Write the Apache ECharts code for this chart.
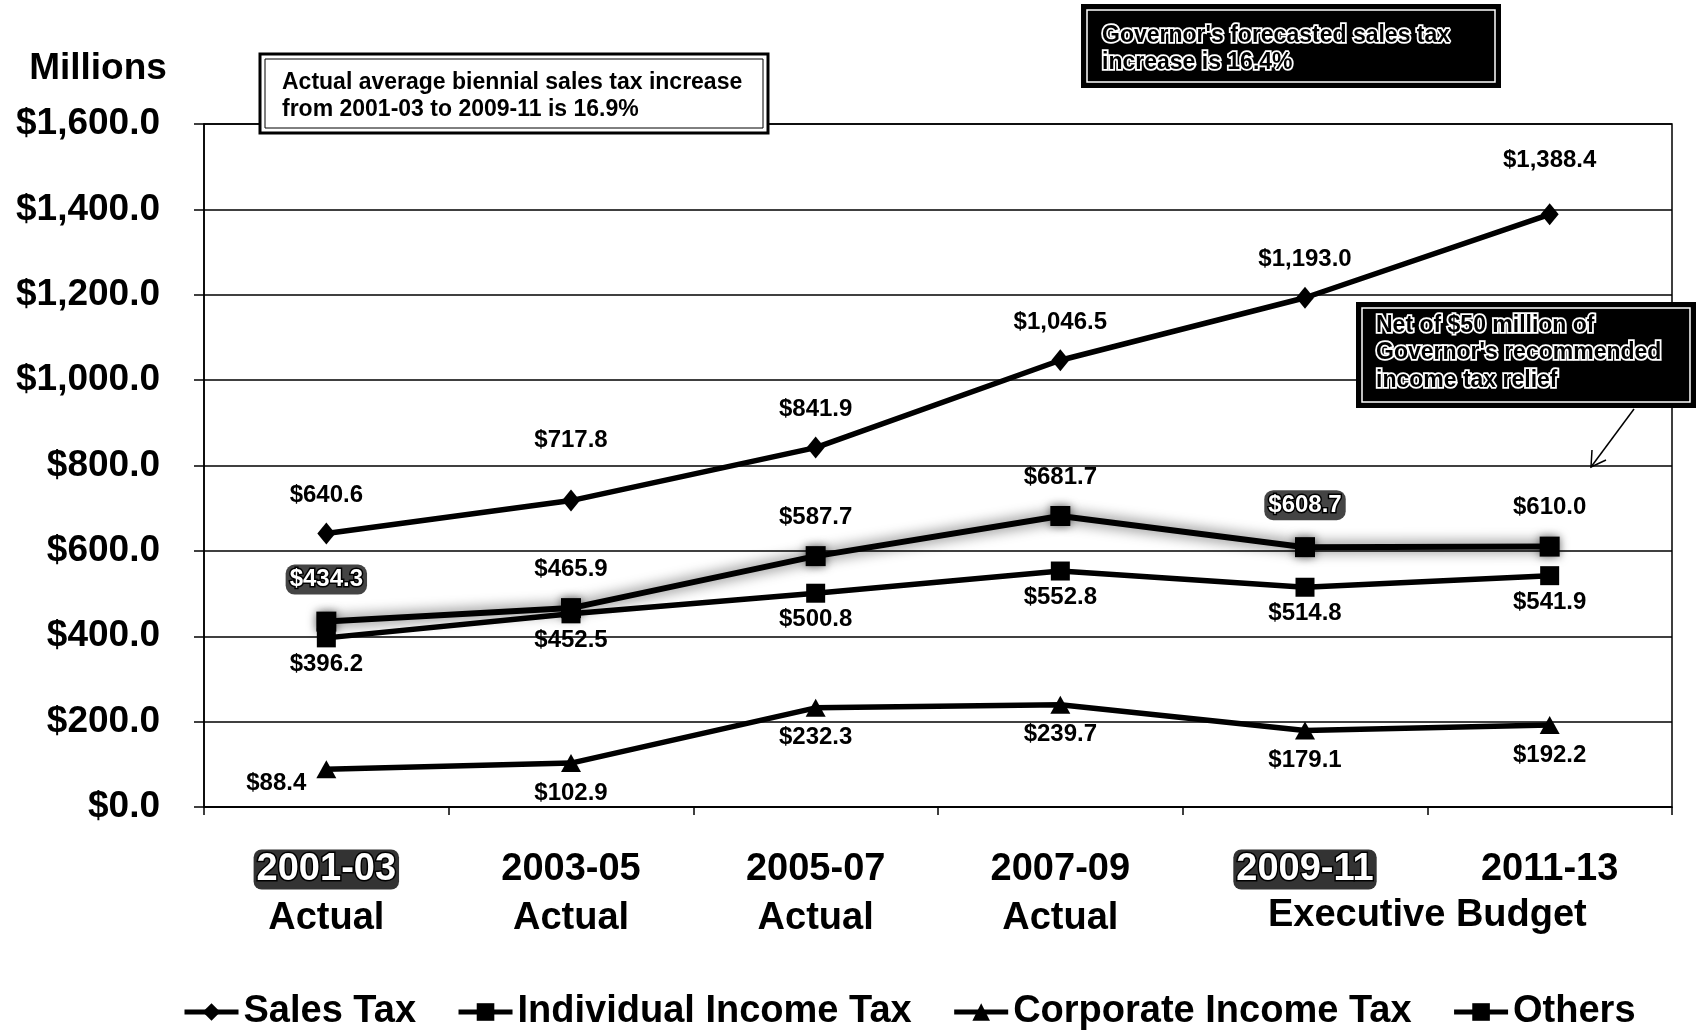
<!DOCTYPE html>
<html>
<head>
<meta charset="utf-8">
<script src="https://cdn.jsdelivr.net/npm/echarts@6/dist/echarts.min.js"></script>
<style>html,body{margin:0;padding:0;background:#fff}#c{width:1697px;height:1031px}</style>
</head>
<body>
<div id="c"></div>
<script>
const categories = ['2001-03', '2003-05', '2005-07', '2007-09', '2009-11', '2011-13'];
const subLabels = ['Actual', 'Actual', 'Actual', 'Actual', '', ''];
const groupLabel = 'Executive Budget';
const salesTax = [640.6, 717.8, 841.9, 1046.5, 1193.0, 1388.4];
const individualIncomeTax = [434.3, 465.9, 587.7, 681.7, 608.7, 610.0];
const corporateIncomeTax = [88.4, 102.9, 232.3, 239.7, 179.1, 192.2];
const others = [396.2, 452.5, 500.8, 552.8, 514.8, 541.9];
const seriesNames = ['Sales Tax', 'Individual Income Tax', 'Corporate Income Tax', 'Others'];
const highlightedCats = [0, 4];
const highlightedIndLabels = [0, 4];
const yMin = 0, yMax = 1600, yStep = 200;

const FONT = '"Liberation Sans", Arial, sans-serif';
const fmt = v => '$' + v.toLocaleString('en-US', {minimumFractionDigits: 1, maximumFractionDigits: 1});

// label layout tweaks (separate from data)
const salesLift = [0, -22, 0, 0, 0, -16];

const chart = echarts.init(document.getElementById('c'));

const baseLabel = {
  show: true, fontFamily: FONT, fontWeight: 'bold', fontSize: 24, color: '#000',
  formatter: p => fmt(p.value)
};

const salesData = salesTax.map((v, i) => ({value: v, label: {offset: [0, salesLift[i]]}}));
const indData = individualIncomeTax.map((v, i) => highlightedIndLabels.includes(i) ? {
  value: v,
  label: {color: '#fff', textBorderColor: '#000', textBorderWidth: 3, backgroundColor: '#444', borderRadius: 9, padding: [3, 4]}
} : v);
const corpData = corporateIncomeTax.map((v, i) => i === 0 ? {value: v, label: {position: 'left', distance: 10, offset: [0, 14]}} : v);

const option = {
  animation: false,
  backgroundColor: '#fff',
  grid: {left: 204, right: 25, top: 124, bottom: 224, show: true, borderColor: '#000', borderWidth: 1.5, backgroundColor: 'transparent'},
  xAxis: {
    type: 'category', data: categories, boundaryGap: true,
    axisLine: {lineStyle: {color: '#000', width: 1.5}},
    axisTick: {show: true, interval: 0, length: 8, lineStyle: {color: '#000', width: 1.5}},
    axisLabel: {
      interval: 0, margin: 38, fontFamily: FONT, fontSize: 38, fontWeight: 'bold', color: '#000', lineHeight: 49,
      formatter: (v, i) => {
        const top = highlightedCats.includes(i) ? '{hl|' + v + '}' : v;
        return top + '\n' + (subLabels[i] || ' ');
      },
      rich: {
        hl: {fontFamily: FONT, fontSize: 38, fontWeight: 'bold', color: '#fff', textBorderColor: '#000', textBorderWidth: 3,
             backgroundColor: '#333', borderRadius: 8, padding: [1, 3], lineHeight: 49}
      }
    },
    splitLine: {show: false}
  },
  yAxis: {
    type: 'value', min: yMin, max: yMax, interval: yStep,
    axisLine: {show: true, lineStyle: {color: '#000', width: 1.5}},
    axisTick: {show: true, length: 10, lineStyle: {color: '#000', width: 1.5}},
    axisLabel: {margin: 44, fontFamily: FONT, fontSize: 37, fontWeight: 'bold', color: '#000', formatter: v => fmt(v)},
    splitLine: {show: true, lineStyle: {color: '#000', width: 1.5}}
  },
  legend: {
    top: 988, left: 177, itemGap: 40, itemWidth: 54, itemHeight: 22,
    lineStyle: {width: 5},
    textStyle: {fontFamily: FONT, fontSize: 38, fontWeight: 'bold', color: '#000'},
    data: seriesNames
  },
  series: [
    {
      name: seriesNames[0], type: 'line', data: salesData, symbol: 'diamond', symbolSize: [18, 22],
      lineStyle: {color: '#000', width: 5.5}, itemStyle: {color: '#000'},
      label: Object.assign({}, baseLabel, {position: 'top', distance: 15}), z: 5
    },
    {
      name: seriesNames[1], type: 'line', data: indData, symbol: 'rect', symbolSize: 20,
      lineStyle: {color: '#000', width: 6, shadowColor: 'rgba(0,0,0,0.75)', shadowBlur: 14},
      itemStyle: {color: '#000', shadowColor: 'rgba(0,0,0,0.6)', shadowBlur: 10},
      label: Object.assign({}, baseLabel, {position: 'top', distance: 17}), z: 4
    },
    {
      name: seriesNames[2], type: 'line', data: corpData, symbol: 'triangle', symbolSize: [20, 18],
      lineStyle: {color: '#000', width: 5.5}, itemStyle: {color: '#000'},
      label: Object.assign({}, baseLabel, {position: 'bottom', distance: 9}), z: 3
    },
    {
      name: seriesNames[3], type: 'line', data: others, symbol: 'rect', symbolSize: 19,
      lineStyle: {color: '#000', width: 5.5}, itemStyle: {color: '#000'},
      label: Object.assign({}, baseLabel, {position: 'bottom', distance: 5}), z: 3
    }
  ]
};
chart.setOption(option);

// Annotations
const xa = chart.convertToPixel({xAxisIndex: 0}, categories[4]);
const xb = chart.convertToPixel({xAxisIndex: 0}, categories[5]);
const yBase = chart.convertToPixel({yAxisIndex: 0}, yMin);

const boldFont = 'bold 23px ' + FONT;
const boxFont = 'bold 23px ' + FONT;
const hollow = {fill: '#000', stroke: '#fff', lineWidth: 3.5, verticalAlign: 'middle', font: boxFont};
chart.setOption({
  graphic: [
    {type: 'text', x: 98, y: 69, style: {text: 'Millions', font: 'bold 37px ' + FONT, fill: '#000', align: 'center', verticalAlign: 'middle'}},
    {type: 'text', x: (xa + xb) / 2, y: yBase + 109, style: {text: groupLabel, font: 'bold 38px ' + FONT, fill: '#000', align: 'center', verticalAlign: 'middle'}},
    // Box 1
    {type: 'rect', shape: {x: 260, y: 54, width: 508, height: 79}, style: {fill: '#fff', stroke: '#000', lineWidth: 3}, z: 100},
    {type: 'rect', shape: {x: 265, y: 59, width: 498, height: 69}, style: {fill: 'none', stroke: '#000', lineWidth: 1}, z: 101},
    {type: 'text', x: 282, y: 83, z: 102, style: {text: 'Actual average biennial sales tax increase', font: boldFont, fill: '#000', verticalAlign: 'middle'}},
    {type: 'text', x: 282, y: 110, z: 102, style: {text: 'from 2001-03 to 2009-11 is 16.9%', font: boldFont, fill: '#000', verticalAlign: 'middle'}},
    // Box 2
    {type: 'rect', shape: {x: 1082, y: 5, width: 418, height: 82}, style: {fill: '#000', stroke: '#000', lineWidth: 2}, z: 100},
    {type: 'rect', shape: {x: 1087, y: 10, width: 408, height: 72}, style: {fill: 'none', stroke: '#fff', lineWidth: 1.5}, z: 101},
    {type: 'text', x: 1102, y: 36, z: 102, style: Object.assign({text: "Governor's forecasted sales tax"}, hollow)},
    {type: 'text', x: 1102, y: 63, z: 102, style: Object.assign({text: 'increase is 16.4%'}, hollow)},
    // Box 3
    {type: 'rect', shape: {x: 1357, y: 303, width: 338, height: 104}, style: {fill: '#000', stroke: '#000', lineWidth: 2}, z: 100},
    {type: 'rect', shape: {x: 1362, y: 308, width: 328, height: 94}, style: {fill: 'none', stroke: '#fff', lineWidth: 1.5}, z: 101},
    {type: 'text', x: 1376, y: 326, z: 102, style: Object.assign({text: 'Net of $50 million of'}, hollow)},
    {type: 'text', x: 1376, y: 353, z: 102, style: Object.assign({text: "Governor's recommended"}, hollow)},
    {type: 'text', x: 1376, y: 381, z: 102, style: Object.assign({text: 'income tax relief'}, hollow)},
    // Arrow
    {type: 'line', shape: {x1: 1634, y1: 409, x2: 1591, y2: 467}, style: {stroke: '#000', lineWidth: 1.5}, z: 100},
    {type: 'polyline', shape: {points: [[1592, 450], [1591, 467], [1606, 460]]}, style: {stroke: '#000', lineWidth: 1.5, fill: 'none'}, z: 100}
  ]
});
</script>
</body>
</html>
